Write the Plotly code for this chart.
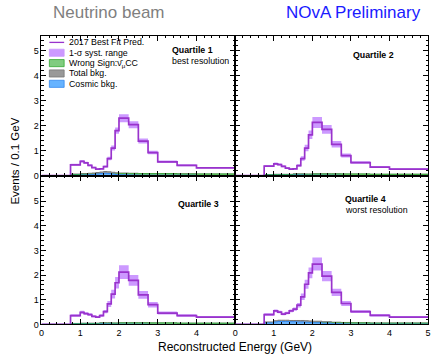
import plotly.graph_objects as go

# ---------------- data ----------------
bin_edges = [0, 0.75, 1.0, 1.1, 1.2, 1.3, 1.4, 1.5, 1.6, 1.7, 1.8, 1.9, 2.0,
             2.25, 2.5, 2.75, 3.0, 3.5, 4.0, 5.0]

pred_q1 = [0, 0.43, 0.57, 0.51, 0.41, 0.32, 0.26, 0.27, 0.36, 0.68, 1.10, 1.80, 2.30, 2.04, 1.38, 0.92, 0.55, 0.41, 0.31]
pred_q2 = [0, 0.38, 0.47, 0.44, 0.37, 0.30, 0.26, 0.27, 0.40, 0.68, 1.10, 1.63, 2.13, 1.85, 1.25, 0.80, 0.52, 0.34, 0.26]
pred_q3 = [0, 0.36, 0.49, 0.44, 0.40, 0.33, 0.30, 0.36, 0.52, 0.83, 1.23, 1.69, 2.12, 1.79, 1.20, 0.80, 0.46, 0.36, 0.30]
pred_q4 = [0, 0.40, 0.55, 0.50, 0.42, 0.46, 0.55, 0.62, 0.78, 1.12, 1.63, 2.09, 2.45, 1.96, 1.30, 0.85, 0.52, 0.37, 0.30]

syst_q1 = [0, 0.04, 0.05, 0.04, 0.04, 0.03, 0.03, 0.03, 0.04, 0.07, 0.10, 0.13, 0.16, 0.14, 0.10, 0.07, 0.05, 0.04, 0.03]
syst_q2 = [0, 0.04, 0.05, 0.04, 0.04, 0.03, 0.03, 0.03, 0.05, 0.09, 0.13, 0.17, 0.22, 0.18, 0.13, 0.08, 0.05, 0.04, 0.03]
syst_q3 = [0, 0.05, 0.06, 0.05, 0.05, 0.04, 0.04, 0.05, 0.07, 0.12, 0.18, 0.23, 0.28, 0.22, 0.16, 0.11, 0.06, 0.05, 0.04]
syst_q4 = [0, 0.05, 0.06, 0.05, 0.05, 0.05, 0.06, 0.07, 0.09, 0.13, 0.18, 0.22, 0.26, 0.21, 0.15, 0.10, 0.06, 0.05, 0.04]

wrongsign_q1 = [0, 0.04, 0.05, 0.05, 0.05, 0.05, 0.05, 0.05, 0.06, 0.06, 0.06, 0.06, 0.07, 0.07, 0.07, 0.07, 0.07, 0.06, 0.06]
wrongsign_q2 = [0, 0.03, 0.04, 0.04, 0.04, 0.04, 0.04, 0.05, 0.05, 0.05, 0.05, 0.05, 0.06, 0.06, 0.06, 0.06, 0.06, 0.05, 0.05]
wrongsign_q3 = [0, 0.03, 0.04, 0.04, 0.04, 0.04, 0.04, 0.05, 0.05, 0.05, 0.05, 0.05, 0.06, 0.06, 0.06, 0.06, 0.06, 0.05, 0.05]
wrongsign_q4 = [0, 0.04, 0.05, 0.05, 0.05, 0.05, 0.05, 0.05, 0.06, 0.06, 0.06, 0.06, 0.06, 0.06, 0.06, 0.06, 0.06, 0.05, 0.05]

cosmic_q1 = [0, 0.01, 0.02, 0.02, 0.03, 0.04, 0.06, 0.08, 0.09, 0.08, 0.06, 0.04, 0.03, 0.02, 0.01, 0.01, 0.01, 0.01, 0.0]
cosmic_q2 = [0, 0.01, 0.01, 0.01, 0.01, 0.01, 0.01, 0.02, 0.02, 0.02, 0.01, 0.01, 0.01, 0.01, 0.01, 0.0, 0.0, 0.0, 0.0]
cosmic_q3 = [0, 0.01, 0.01, 0.01, 0.01, 0.01, 0.01, 0.02, 0.02, 0.02, 0.01, 0.01, 0.01, 0.01, 0.01, 0.0, 0.0, 0.0, 0.0]
cosmic_q4 = [0, 0.06, 0.10, 0.12, 0.12, 0.12, 0.11, 0.11, 0.10, 0.10, 0.09, 0.08, 0.07, 0.05, 0.03, 0.02, 0.01, 0.01, 0.01]

totbkg_q1 = [0, 0.06, 0.08, 0.08, 0.09, 0.10, 0.12, 0.14, 0.16, 0.15, 0.13, 0.11, 0.10, 0.09, 0.08, 0.08, 0.08, 0.07, 0.06]
totbkg_q2 = [0, 0.04, 0.05, 0.05, 0.05, 0.05, 0.05, 0.07, 0.07, 0.07, 0.06, 0.06, 0.07, 0.07, 0.07, 0.06, 0.06, 0.05, 0.05]
totbkg_q3 = [0, 0.04, 0.05, 0.05, 0.05, 0.05, 0.05, 0.07, 0.07, 0.07, 0.06, 0.06, 0.07, 0.07, 0.07, 0.06, 0.06, 0.05, 0.05]
totbkg_q4 = [0, 0.10, 0.15, 0.17, 0.17, 0.17, 0.16, 0.16, 0.16, 0.16, 0.15, 0.14, 0.13, 0.11, 0.09, 0.08, 0.07, 0.06, 0.06]

quartiles = [
    dict(pred=pred_q1, syst=syst_q1, ws=wrongsign_q1, cos=cosmic_q1, tot=totbkg_q1),
    dict(pred=pred_q2, syst=syst_q2, ws=wrongsign_q2, cos=cosmic_q2, tot=totbkg_q2),
    dict(pred=pred_q3, syst=syst_q3, ws=wrongsign_q3, cos=cosmic_q3, tot=totbkg_q3),
    dict(pred=pred_q4, syst=syst_q4, ws=wrongsign_q4, cos=cosmic_q4, tot=totbkg_q4),
]

x_ticks = [0, 1, 2, 3, 4, 5]
x_ticks_left = [0, 1, 2, 3, 4]
y_ticks = [0, 1, 2, 3, 4, 5]

# ---------------- style ----------------
W, H = 435, 360
FONT = "Liberation Sans, Arial, Helvetica, sans-serif"
LINE_C = "#9933cc"
BAND_C = "#cc99ff"
GREEN_F, GREEN_L = "#80cc80", "#33aa33"
GRAY_F, GRAY_L = "#999999", "#777777"
BLUE_F, BLUE_L = "#66b3ff", "#3388ee"


def px(x):
    return x / W


def py(y):
    return 1 - y / H


X_L, X_M, X_R = 39, 235.5, 431
Y_T, Y_M, Y_B = 36, 178, 329

fig = go.Figure()

axes = [("x", "y"), ("x2", "y2"), ("x3", "y3"), ("x4", "y4")]


def step(vals):
    return list(vals) + [vals[-1]]


for q, (xa, ya) in zip(quartiles, axes):
    xs = bin_edges
    for key, fc, lc in (("tot", GRAY_F, GRAY_L), ("ws", GREEN_F, GREEN_L), ("cos", BLUE_F, BLUE_L)):
        fig.add_trace(go.Scatter(x=xs, y=step(q[key]), mode="lines", line=dict(shape="hv", color=lc, width=1),
                                 fill="tozeroy", fillcolor=fc, xaxis=xa, yaxis=ya, showlegend=False,
                                 hoverinfo="skip"))
    lo = [p - s for p, s in zip(q["pred"], q["syst"])]
    hi = [p + s for p, s in zip(q["pred"], q["syst"])]
    fig.add_trace(go.Scatter(x=xs, y=step(lo), mode="lines", line=dict(shape="hv", width=0, color=BAND_C),
                             xaxis=xa, yaxis=ya, showlegend=False, hoverinfo="skip"))
    fig.add_trace(go.Scatter(x=xs, y=step(hi), mode="lines", line=dict(shape="hv", width=0, color=BAND_C),
                             fill="tonexty", fillcolor=BAND_C, xaxis=xa, yaxis=ya, showlegend=False,
                             hoverinfo="skip"))
    fig.add_trace(go.Scatter(x=xs, y=step(q["pred"]), mode="lines", line=dict(shape="hv", width=1.7, color=LINE_C),
                             xaxis=xa, yaxis=ya, showlegend=False))

tick_font = dict(family=FONT, size=9, color="black")
common = dict(showline=True, linecolor="black", linewidth=1, mirror="allticks", ticks="inside",
              ticklen=5, tickcolor="black", tickwidth=1, showgrid=False, zeroline=False,
              tickfont=tick_font,
              minor=dict(ticks="inside", ticklen=2.5, tickcolor="black", tickmode="linear", tick0=0, dtick=0.2))

xdom_l = [px(X_L), px(X_M)]
xdom_r = [px(X_M), px(X_R)]
ydom_t = [py(Y_M), py(Y_T)]
ydom_b = [py(Y_B), py(Y_M)]
top_rng = [0, (Y_M - Y_T) / 25.3]
bot_rng = [0, (Y_B - Y_M) / 25.0]

fig.update_layout(
    xaxis=dict(domain=xdom_l, range=[0, 5], anchor="y", tickvals=x_ticks, showticklabels=False, **common),
    yaxis=dict(domain=ydom_t, range=top_rng, anchor="x", tickvals=y_ticks, **common),
    xaxis2=dict(domain=xdom_r, range=[0, 5], anchor="y2", tickvals=x_ticks, showticklabels=False, **common),
    yaxis2=dict(domain=ydom_t, range=top_rng, anchor="x2", tickvals=y_ticks, showticklabels=False, **common),
    xaxis3=dict(domain=xdom_l, range=[0, 5], anchor="y3", tickvals=x_ticks_left, **common),
    yaxis3=dict(domain=ydom_b, range=bot_rng, anchor="x3", tickvals=y_ticks, **common),
    xaxis4=dict(domain=xdom_r, range=[0, 5], anchor="y4", tickvals=x_ticks, **common),
    yaxis4=dict(domain=ydom_b, range=bot_rng, anchor="x4", tickvals=y_ticks, showticklabels=False, **common),
)

ann = []
shapes = []


def text(x, y, s, size=8.5, color="black", xanchor="left", bold=False, textangle=0):
    if bold:
        s = "<b>" + s + "</b>"
    ann.append(dict(x=px(x), y=py(y), xref="paper", yref="paper", text=s, showarrow=False,
                    xanchor=xanchor, yanchor="middle", textangle=textangle,
                    font=dict(family=FONT, size=size, color=color)))


# titles
text(107, 13, "Neutrino beam", size=17, color="#7f7f7f", xanchor="center")
text(426, 13, "NOvA Preliminary", size=17, color="#1a1aff", xanchor="right")
text(235, 352, "Reconstructed Energy (GeV)", size=12, xanchor="center")
text(12, 163, "Events / 0.1 GeV", size=11.5, xanchor="center", textangle=-90)

# quartile labels
text(169, 51, "Quartile 1", bold=True, size=8.8)
text(169, 62, "best resolution", size=8.8)
text(376, 56, "Quartile 2", bold=True, size=8.8, xanchor="center")
text(198, 207, "Quartile 3", bold=True, size=8.8, xanchor="center")
text(345, 202, "Quartile 4", bold=True, size=8.8)
text(345, 213, "worst resolution", size=8.8)

# manual legend
leg_x0, leg_x1, leg_tx = 47, 62, 65
leg_rows = [
    (43, "line", LINE_C, LINE_C, "2017 Best Fit Pred."),
    (53.5, "box", BAND_C, BAND_C, "1-σ syst. range"),
    (64, "box", GREEN_F, GREEN_L, "Wrong Sign:ν\u0304<sub>μ</sub>CC"),
    (74.5, "box", GRAY_F, GRAY_L, "Total bkg."),
    (85, "box", BLUE_F, BLUE_L, "Cosmic bkg."),
]
for yy, kind, fc, lc, label in leg_rows:
    if kind == "line":
        shapes.append(dict(type="line", xref="paper", yref="paper", x0=px(leg_x0), x1=px(leg_x1),
                           y0=py(yy), y1=py(yy), line=dict(color=lc, width=1.3)))
    else:
        shapes.append(dict(type="rect", xref="paper", yref="paper", x0=px(leg_x0), x1=px(leg_x1),
                           y0=py(yy - 3.6), y1=py(yy + 3.6), fillcolor=fc, line=dict(color=lc, width=0.8)))
    text(leg_tx, yy, label, size=8.8)

fig.update_layout(
    width=W, height=H, margin=dict(l=0, r=0, t=0, b=0),
    paper_bgcolor="white", plot_bgcolor="white",
    annotations=ann, shapes=shapes, showlegend=False,
    font=dict(family=FONT),
)

fig.write_html("out.html")
